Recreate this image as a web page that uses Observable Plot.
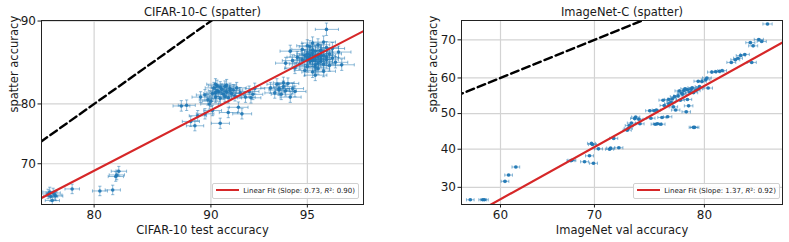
<!DOCTYPE html>
<html>
<head>
<meta charset="utf-8">
<script src="https://cdn.jsdelivr.net/npm/d3@7"></script>
<script src="https://cdn.jsdelivr.net/npm/@observablehq/plot@0.6"></script>
<style>
  html, body { margin: 0; padding: 0; background: #fff; }
  body { font-family: "DejaVu Sans", sans-serif; }
  #row { display: flex; width: 789px; height: 242px; }
  .panel { position: relative; }
  .legend { position: absolute; box-sizing: border-box; border: 1px solid #d0d0d0; border-radius: 2px;
            background: rgba(255,255,255,0.85); font-size: 7px; color: #222;
            padding: 0 3px; white-space: nowrap; line-height: 14px; }
  .legend .sw { display: inline-block; width: 23px; height: 2px; background: #d62728; margin-right: 4px; vertical-align: 2px; }
</style>
</head>
<body>
<div id="row"></div>
<script>
// ---------------- data (accuracy in %) ----------------
const cifarTestAcc = [
  74.8,75.1,75.4,75.3,75.7,75.0,75.6,77.6,80.6,81.9,82.2,82.5,82.3,
  87.9,88.3,88.6,88.9,89.1,89.6,89.9,90.6,91.1,91.7,91.9,90.1,
  90.0,90.1,90.2,90.3,90.4,90.5,90.6,90.7,90.8,90.9,91.0,91.1,91.2,91.3,91.4,91.5,91.6,91.8,89.6,89.8,90.3,92.1,92.3,92.4,92.6,92.5,89.3,
  90.4,90.6,90.9,91.2,91.0,90.3,
  93.4,93.6,93.7,93.8,93.9,94.0,94.1,94.2,94.3,94.4,94.5,94.0,93.8,
  94.1,94.3,94.5,94.6,94.7,94.8,94.9,95.0,95.0,95.1,95.1,95.2,95.2,95.3,95.3,95.4,95.4,95.4,95.5,95.5,95.6,95.6,95.7,95.7,95.8,95.8,95.9,96.0,96.1,95.2,95.0,94.9,95.3,95.6,95.7,94.4,95.9,96.2,
  95.0,95.1,95.2,95.3,95.4,95.5,95.6,95.3,95.2,95.4,95.1,95.5,94.8,95.7,95.0,95.3,95.5,95.2
];
const cifarSpatterAcc = [
  64.2,63.7,64.4,62.9,63.8,64.6,64.0,65.2,64.8,65.0,67.6,68.6,67.9,
  79.7,79.8,77.3,76.6,78.2,78.5,80.0,77.0,78.7,79.5,78.5,79.0,
  80.4,81.5,82.3,81.0,82.6,81.8,80.8,82.1,81.4,82.5,81.7,80.9,82.2,81.5,82.0,81.2,82.3,81.6,81.3,80.6,82.8,81.0,81.8,80.9,82.2,81.4,81.0,
  81.9,82.4,81.1,81.9,82.7,81.6,
  82.3,81.6,82.8,82.0,81.4,82.5,81.9,82.9,81.0,82.2,81.8,83.0,82.2,
  85.5,86.9,84.9,86.2,85.4,87.1,84.6,86.0,85.1,87.4,86.5,84.4,85.8,86.9,85.3,87.6,86.3,84.8,85.7,87.0,86.4,84.5,85.9,87.3,86.6,85.2,86.1,85.6,86.8,87.8,87.5,86.4,84.0,87.9,89.2,85.8,87.2,85.3,
  86.2,85.7,86.7,85.9,86.5,86.0,85.4,86.3,87.0,85.5,86.1,86.9,85.9,86.2,86.6,85.0,86.4,86.0
];
const imagenetValAcc = [
  56.6,58.0,58.2,60.5,60.9,61.7,67.6,67.7,69.0,69.5,69.9,69.7,69.8,70.4,71.5,71.6,72.4,71.9,
  73.2,73.3,73.4,73.6,73.9,74.0,74.4,74.3,75.4,75.3,75.7,75.9,75.8,76.0,76.3,76.4,76.9,76.6,77.0,77.4,77.6,77.2,77.3,
  77.8,78.0,78.1,78.3,78.5,78.7,78.6,78.8,78.9,79.0,79.1,79.2,79.3,79.5,79.6,79.8,80.1,80.2,79.5,80.3,
  80.6,80.9,81.2,81.4,82.1,82.4,82.6,82.8,83.1,83.6,83.5,83.7,84.1,84.3,84.7,
  77.5,77.9,78.2,78.4,78.6,79.1,77.0,76.5
];
const imagenetSpatterAcc = [
  27.0,27.0,27.0,31.5,33.1,35.2,36.9,37.0,36.6,38.2,36.2,41.6,41.3,40.1,40.0,40.3,40.4,43.0,
  45.3,45.8,46.6,47.3,48.6,49.0,47.1,48.4,48.7,50.8,50.8,51.0,47.0,47.1,47.0,48.9,49.1,52.3,52.8,51.9,51.0,53.3,54.2,
  55.0,53.8,55.8,56.5,50.5,52.2,54.0,56.0,56.9,57.3,46.1,46.1,56.5,57.0,57.6,59.0,59.5,60.0,59.1,57.2,
  61.6,61.7,61.8,62.0,64.2,64.9,65.3,66.0,66.3,64.2,69.3,68.5,70.1,69.6,73.8,
  54.8,56.4,55.5,57.0,56.7,55.9,54.0,53.8
];
const cifarXTicks = [80, 90, 95];
const cifarYTicks = [70, 80, 90];
const imagenetXTicks = [60, 70, 80];
const imagenetYTicks = [30, 40, 50, 60, 70];
const cifarXDomain = [74.0, 96.83];
const cifarYDomain = [62.1, 90.05];
const imagenetXDomain = [55.6, 85.7];
const imagenetYDomain = [25.9, 74.6];
// linear fit in probit space: probit(y) = slope * probit(x) + intercept
const cifarFit = {slope: 0.73, intercept: -0.127, r2: "0.90"};
const imagenetFit = {slope: 1.37, intercept: -0.956, r2: "0.92"};
const cifarN = {x: 10000, y: 10000};
const imagenetN = {x: 50000, y: 250000};

// ---------------- helpers ----------------
function probit(p) {
  const a=[-3.969683028665376e+01,2.209460984245205e+02,-2.759285104469687e+02,1.383577518672690e+02,-3.066479806614716e+01,2.506628277459239e+00];
  const b=[-5.447609879822406e+01,1.615858368580409e+02,-1.556989798598866e+02,6.680131188771972e+01,-1.328068155288572e+01];
  const c=[-7.784894002430293e-03,-3.223964580411365e-01,-2.400758277161838e+00,-2.549732539343734e+00,4.374664141464968e+00,2.938163982698783e+00];
  const d=[7.784695709041462e-03,3.224671290700398e-01,2.445134137142996e+00,3.754408661907416e+00];
  const pl = 0.02425, ph = 1 - pl;
  let q, r;
  if (p < pl) { q = Math.sqrt(-2*Math.log(p)); return (((((c[0]*q+c[1])*q+c[2])*q+c[3])*q+c[4])*q+c[5])/((((d[0]*q+d[1])*q+d[2])*q+d[3])*q+1); }
  if (p <= ph) { q = p - 0.5; r = q*q; return (((((a[0]*r+a[1])*r+a[2])*r+a[3])*r+a[4])*r+a[5])*q/(((((b[0]*r+b[1])*r+b[2])*r+b[3])*r+b[4])*r+1); }
  q = Math.sqrt(-2*Math.log(1-p)); return -(((((c[0]*q+c[1])*q+c[2])*q+c[3])*q+c[4])*q+c[5])/((((d[0]*q+d[1])*q+d[2])*q+d[3])*q+1);
}
const pp = v => probit(v / 100);
const ci = (v, n) => 1.96 * Math.sqrt((v/100) * (1 - v/100) / n) * 100;

const capV = {draw(ctx) { ctx.moveTo(0, -1.6); ctx.lineTo(0, 1.6); }};
const capH = {draw(ctx) { ctx.moveTo(-1.6, 0); ctx.lineTo(1.6, 0); }};

const BLUE = "#1f77b4";

function panel(cfg) {
  const rows = cfg.xs.map((xv, i) => {
    const yv = cfg.ys[i];
    const ex = ci(xv, cfg.n.x), ey = ci(yv, cfg.n.y);
    return {x: pp(xv), y: pp(yv), x1: pp(xv - ex), x2: pp(xv + ex), y1: pp(yv - ey), y2: pp(yv + ey)};
  });
  const xd = cfg.xDomain.map(pp), yd = cfg.yDomain.map(pp);
  const lo = Math.min(cfg.xDomain[0], cfg.yDomain[0]), hi = Math.max(cfg.xDomain[1], cfg.yDomain[1]);
  const diag = [{x: pp(lo), y: pp(lo)}, {x: pp(hi), y: pp(hi)}];
  const fit = xd.map(x => ({x, y: cfg.fit.slope * x + cfg.fit.intercept}));
  const xfmt = new Map(cfg.xTicks.map(t => [pp(t), String(t)]));
  const yfmt = new Map(cfg.yTicks.map(t => [pp(t), String(t)]));
  const chart = Plot.plot({
    width: cfg.width, height: 242,
    marginLeft: cfg.ml, marginRight: cfg.mr, marginTop: 20, marginBottom: 38,
    style: {fontFamily: "DejaVu Sans, sans-serif", fontSize: "12px", color: "#1a1a1a", background: "white"},
    x: {domain: xd},
    y: {domain: yd},
    marks: [
      Plot.gridX(cfg.xTicks.map(pp), {stroke: "#d3d3d3", strokeOpacity: 1, strokeWidth: 1.2}),
      Plot.gridY(cfg.yTicks.map(pp), {stroke: "#d3d3d3", strokeOpacity: 1, strokeWidth: 1.2}),
      Plot.link(rows, {x1: "x1", x2: "x2", y1: "y", y2: "y", stroke: BLUE, strokeOpacity: 0.5, strokeWidth: 1, clip: true}),
      Plot.link(rows, {x1: "x", x2: "x", y1: "y1", y2: "y2", stroke: BLUE, strokeOpacity: 0.5, strokeWidth: 1, clip: true}),
      Plot.dot(rows, {x: "x1", y: "y", symbol: capV, fill: "none", stroke: BLUE, strokeOpacity: 0.5, strokeWidth: 1, clip: true}),
      Plot.dot(rows, {x: "x2", y: "y", symbol: capV, fill: "none", stroke: BLUE, strokeOpacity: 0.5, strokeWidth: 1, clip: true}),
      Plot.dot(rows, {x: "x", y: "y1", symbol: capH, fill: "none", stroke: BLUE, strokeOpacity: 0.5, strokeWidth: 1, clip: true}),
      Plot.dot(rows, {x: "x", y: "y2", symbol: capH, fill: "none", stroke: BLUE, strokeOpacity: 0.5, strokeWidth: 1, clip: true}),
      Plot.dot(rows, {x: "x", y: "y", r: 1.8, fill: BLUE, fillOpacity: 0.9, stroke: "none", clip: true}),
      Plot.line(diag, {x: "x", y: "y", stroke: "black", strokeWidth: 2.4, strokeDasharray: "8,4", clip: true}),
      Plot.line(fit, {x: "x", y: "y", stroke: "#d62728", strokeWidth: 2.2, clip: true}),
      Plot.frame({stroke: "#222", strokeWidth: 1}),
      Plot.axisX(cfg.xTicks.map(pp), {tickFormat: d => xfmt.get(d), tickSize: 3.5, tickPadding: 2, fontSize: 12, label: null}),
      Plot.axisY(cfg.yTicks.map(pp), {tickFormat: d => yfmt.get(d), tickSize: 3.5, tickPadding: 2, fontSize: 12, label: null}),
      Plot.text([cfg.title], {frameAnchor: "top", lineAnchor: "middle", dy: -8.5, fontSize: 11.5, text: d => d}),
      Plot.text([cfg.xLabel], {frameAnchor: "bottom", lineAnchor: "middle", dy: 26, fontSize: 11.5, text: d => d}),
      Plot.text([cfg.yLabel], {frameAnchor: "left", lineAnchor: "middle", rotate: -90, dx: -(cfg.ml - cfg.yLabelX), fontSize: 11.5, text: d => d})
    ]
  });
  const div = document.createElement("div");
  div.className = "panel";
  div.style.width = cfg.width + "px";
  div.appendChild(chart);
  const lg = document.createElement("div");
  lg.className = "legend";
  lg.style.right = cfg.legendRight + "px";
  lg.style.top = "183px";
  lg.style.height = "16px";
  lg.innerHTML = `<span class="sw"></span><span>Linear Fit (Slope: ${cfg.fit.slope.toFixed(2)}, <i>R</i>\u00b2: ${cfg.fit.r2})</span>`;
  div.appendChild(lg);
  return div;
}

const row = document.getElementById("row");
row.appendChild(panel({
  xs: cifarTestAcc, ys: cifarSpatterAcc, n: cifarN, width: 400, ml: 41, mr: 37,
  xDomain: cifarXDomain, yDomain: cifarYDomain, xTicks: cifarXTicks, yTicks: cifarYTicks,
  fit: cifarFit, title: "CIFAR-10-C (spatter)", xLabel: "CIFAR-10 test accuracy", yLabel: "spatter accuracy",
  yLabelX: 14, legendRight: 41
}));
row.appendChild(panel({
  xs: imagenetValAcc, ys: imagenetSpatterAcc, n: imagenetN, width: 389, ml: 61, mr: 7,
  xDomain: imagenetXDomain, yDomain: imagenetYDomain, xTicks: imagenetXTicks, yTicks: imagenetYTicks,
  fit: imagenetFit, title: "ImageNet-C (spatter)", xLabel: "ImageNet val accuracy", yLabel: "spatter accuracy",
  yLabelX: 33, legendRight: 9
}));
</script>
</body>
</html>
